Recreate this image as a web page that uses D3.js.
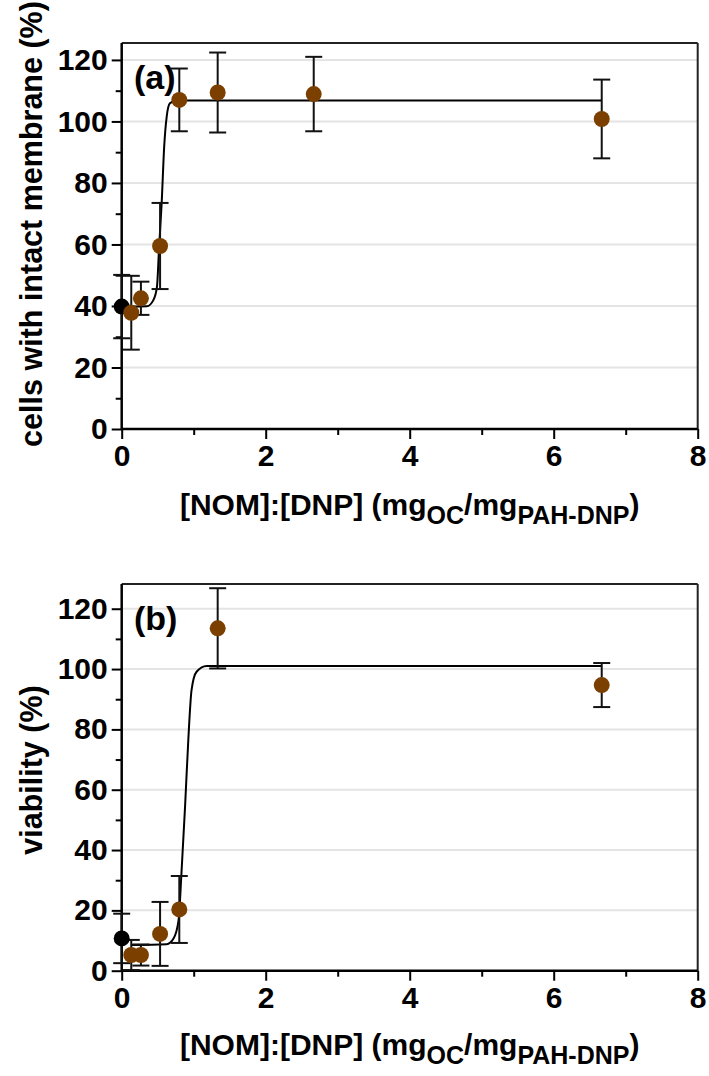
<!DOCTYPE html>
<meta charset="utf-8">
<title>NOM:DNP membrane integrity and viability</title>
<style>
    body { margin: 0; background: #fff; }
    text { font-family: "Liberation Sans", Arial, sans-serif; font-weight: bold; fill: #000; }
    .grid line { stroke: #e4e4e4; stroke-width: 2px; }
    .err { stroke: #111; stroke-width: 2px; fill: none; }
    .fit { stroke: #000; stroke-width: 2px; fill: none; }
</style>
<body>
<div id="chart"></div>
<script src="https://d3js.org/d3.v7.min.js"></script>
<script>

// ratios [NOM]:[DNP]
var ratioA = [0, 0.133, 0.267, 0.533, 0.8, 1.333, 2.667, 6.667];
var ratioB = [0, 0.133, 0.267, 0.533, 0.8, 1.333, 6.667];

// (a) cells with intact membrane (%)
var membrane = [39.8, 37.8, 42.5, 59.5, 107.0, 109.4, 108.9, 100.8];
var membraneErr = [10.3, 12.0, 5.4, 14.0, 10.2, 13.0, 12.1, 12.8];

// (b) viability (%)
var viability = [10.7, 5.2, 5.2, 12.2, 20.3, 113.5, 94.7];
var viabilityErr = [8.2, 5.0, 3.5, 10.6, 11.1, 13.3, 7.3];

// fitted curves
var fitAx = [0.13, 0.35, 0.44, 0.49, 0.52, 0.555, 0.59, 0.625, 0.67, 0.76, 6.667];
var fitAy = [39.8, 39.9, 41.9, 46.3, 59.3, 73.4, 91.8, 101.6, 105.9, 106.8, 106.8];
var fitBx = [0.13, 0.625, 0.72, 0.79, 0.83, 0.88, 0.925, 0.97, 1.04, 1.18, 6.667];
var fitBy = [8.5, 8.8, 10.7, 16.8, 32.3, 54.4, 76.5, 93.0, 99.1, 101.0, 101.0];

var xTicks = [0, 2, 4, 6, 8];
var yTicks = [0, 20, 40, 60, 80, 100, 120];

var svg = d3.select("#chart").append("svg")
    .attr("width", 709)
    .attr("height", 1076);

var left = 121.7, right = 697.7;
var x = d3.scaleLinear().domain([0, 8]).range([left, right]);

function drawPanel(opt) {
    var y = d3.scaleLinear().domain([0, opt.yMax]).range([opt.bottom, opt.top]);
    var g = svg.append("g");

    // gridlines
    g.append("g").attr("class", "grid")
        .selectAll("line").data(yTicks.filter(function (d) { return d > 0; }))
        .enter().append("line")
        .attr("x1", left).attr("x2", right)
        .attr("y1", function (d) { return y(d); })
        .attr("y2", function (d) { return y(d); });

    // frame top + right
    g.append("line").attr("x1", left).attr("x2", right)
        .attr("y1", opt.top).attr("y2", opt.top)
        .attr("stroke", "#222").attr("stroke-width", 2);
    g.append("line").attr("x1", right).attr("x2", right)
        .attr("y1", opt.top).attr("y2", opt.bottom)
        .attr("stroke", "#222").attr("stroke-width", 2);

    // y axis
    var yAxis = g.append("g")
        .attr("transform", "translate(" + left + ",0)")
        .call(d3.axisLeft(y).tickValues(yTicks).tickSize(10).tickPadding(4));
    g.append("g")
        .attr("transform", "translate(" + left + ",0)")
        .call(d3.axisLeft(y).tickValues(d3.range(10, opt.yMax, 20)).tickSize(6).tickFormat(""))
        .select(".domain").remove();

    // x axis
    var xAxis = g.append("g")
        .attr("transform", "translate(0," + opt.bottom + ")")
        .call(d3.axisBottom(x).tickValues(xTicks).tickSize(10).tickPadding(6));
    g.append("g")
        .attr("transform", "translate(0," + opt.bottom + ")")
        .call(d3.axisBottom(x).tickValues([1, 3, 5, 7]).tickSize(6).tickFormat(""))
        .select(".domain").remove();

    g.selectAll(".domain").attr("stroke", "#000").attr("stroke-width", 2.5);
    g.selectAll(".tick line").attr("stroke", "#000").attr("stroke-width", 2);
    g.selectAll(".tick text").attr("font-size", "30px").attr("font-family", "Liberation Sans, Arial")
        .attr("font-weight", "bold").attr("fill", "#000");
    yAxis.selectAll(".domain").attr("d", "M0," + opt.bottom + "V" + opt.top);
    xAxis.selectAll(".domain").attr("d", "M" + left + ",0H" + right);

    // panel letter
    g.append("text").attr("x", 134).attr("y", opt.top + 46)
        .attr("font-size", "34px").text(opt.letter);

    // fit curve
    var pts = opt.fitX.map(function (d, i) { return [d, opt.fitY[i]]; });
    g.append("path").attr("class", "fit")
        .attr("d", d3.line()
            .x(function (d) { return x(d[0]); })
            .y(function (d) { return y(d[1]); })
            .curve(d3.curveMonotoneX)(pts));

    // error bars
    var rows = opt.xs.map(function (d, i) { return { x: d, y: opt.ys[i], e: opt.errs[i], i: i }; });
    var eb = g.append("g").selectAll("g").data(rows).enter().append("g").attr("class", "err");
    eb.append("line")
        .attr("x1", function (d) { return x(d.x); }).attr("x2", function (d) { return x(d.x); })
        .attr("y1", function (d) { return y(d.y + d.e); })
        .attr("y2", function (d) { return y(Math.max(0, d.y - d.e)); });
    eb.append("line")
        .attr("x1", function (d) { return x(d.x) - 8.5; }).attr("x2", function (d) { return x(d.x) + 8.5; })
        .attr("y1", function (d) { return y(d.y + d.e); })
        .attr("y2", function (d) { return y(d.y + d.e); });
    eb.append("line")
        .attr("x1", function (d) { return x(d.x) - 8.5; }).attr("x2", function (d) { return x(d.x) + 8.5; })
        .attr("y1", function (d) { return y(Math.max(0, d.y - d.e)); })
        .attr("y2", function (d) { return y(Math.max(0, d.y - d.e)); });

    // points
    g.append("g").selectAll("circle").data(rows).enter().append("circle")
        .attr("cx", function (d) { return x(d.x); })
        .attr("cy", function (d) { return y(d.y); })
        .attr("r", 8)
        .attr("fill", function (d) { return d.i === 0 ? "#000" : "#7b3f00"; });

    // y title
    g.append("text")
        .attr("transform", "translate(" + 42 + "," + opt.yTitleMid + ") rotate(-90)")
        .attr("text-anchor", "middle")
        .attr("font-size", "30.5px")
        .text(opt.yTitle);

    // x title with subscripts
    var t = g.append("text")
        .attr("x", (left + right) / 2).attr("y", opt.xTitleY)
        .attr("text-anchor", "middle")
        .attr("font-size", "30px");
    t.append("tspan").text("[NOM]:[DNP] (mg");
    t.append("tspan").attr("font-size", "25px").attr("dy", 9).text("OC");
    t.append("tspan").attr("dy", -9).text("/mg");
    t.append("tspan").attr("font-size", "25px").attr("dy", 9).text("PAH-DNP");
    t.append("tspan").attr("dy", -9).text(")");
}

drawPanel({
    top: 43, bottom: 429, yMax: 125.5, letter: "(a)",
    xs: ratioA, ys: membrane, errs: membraneErr,
    fitX: fitAx, fitY: fitAy,
    yTitle: "cells with intact membrane (%)", yTitleMid: 224, xTitleY: 515
});

drawPanel({
    top: 584, bottom: 970.7, yMax: 128.2, letter: "(b)",
    xs: ratioB, ys: viability, errs: viabilityErr,
    fitX: fitBx, fitY: fitBy,
    yTitle: "viability (%)", yTitleMid: 770, xTitleY: 1055
});

</script>
</body>
